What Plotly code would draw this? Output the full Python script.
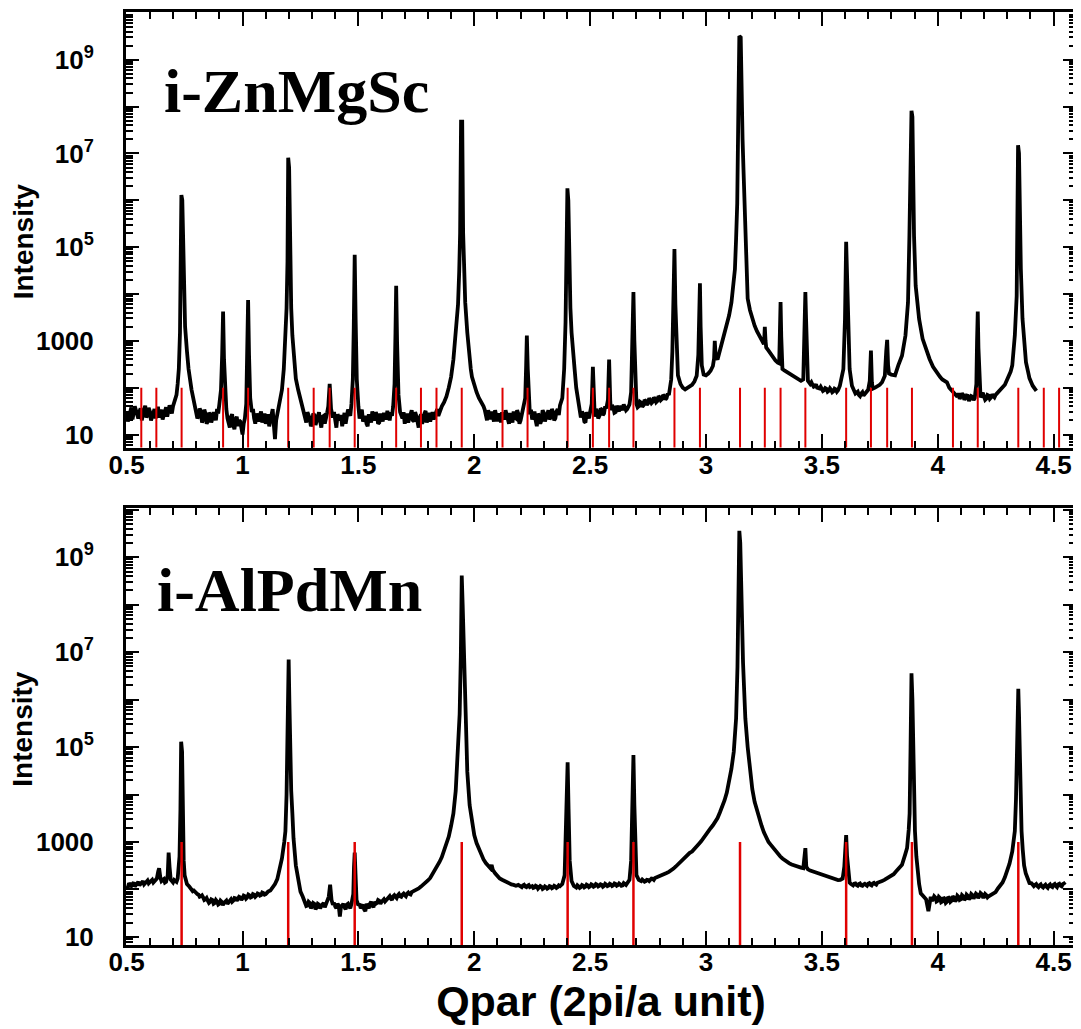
import plotly.graph_objects as go

# ---------------- data ----------------
# i-ZnMgSc scan: (Qpar, intensity)
znmgsc_points = [
    (0.50, 30), (0.51, 24), (0.52, 38), (0.53, 27), (0.54, 33), (0.55, 22), (0.56, 36), (0.57, 28), (0.58, 41), (0.59, 26),
    (0.60, 31), (0.61, 24), (0.62, 35), (0.63, 29), (0.64, 23), (0.65, 34), (0.66, 27), (0.67, 38), (0.68, 30), (0.69, 36),
    (0.70, 40), (0.71, 55), (0.715, 70), (0.72, 120), (0.725, 250), (0.730, 1500), (0.733, 5e4), (0.736, 1.3e6), (0.740, 1.0e6), (0.744, 5e4),
    (0.748, 6000), (0.752, 2000), (0.76, 600), (0.767, 250), (0.78, 90), (0.79, 50), (0.80, 33), (0.81, 25), (0.82, 31), (0.83, 21),
    (0.84, 28), (0.85, 19), (0.86, 27), (0.87, 22), (0.88, 26), (0.89, 35), (0.90, 45), (0.907, 90), (0.912, 500), (0.916, 4200),
    (0.920, 400), (0.926, 70), (0.93, 35), (0.94, 18), (0.95, 24), (0.96, 16), (0.97, 21), (0.98, 15), (0.99, 19), (1.00, 10),
    (1.01, 22), (1.016, 45), (1.020, 400), (1.024, 7400), (1.028, 500), (1.033, 60), (1.04, 30), (1.05, 22), (1.06, 28), (1.07, 19),
    (1.08, 31), (1.09, 24), (1.10, 17), (1.11, 27), (1.12, 20), (1.13, 35), (1.14, 8), (1.15, 26), (1.16, 45), (1.17, 90),
    (1.178, 250), (1.185, 1200), (1.19, 5000), (1.194, 5e4), (1.197, 8.1e6), (1.201, 5e6), (1.205, 8e4), (1.21, 5000), (1.215, 1300), (1.22, 500),
    (1.23, 155), (1.24, 90), (1.25, 55), (1.26, 38), (1.27, 24), (1.28, 30), (1.29, 22), (1.30, 17), (1.31, 26), (1.32, 20),
    (1.33, 30), (1.34, 14), (1.35, 25), (1.36, 21), (1.37, 40), (1.376, 120), (1.382, 35), (1.39, 23), (1.40, 18), (1.41, 27),
    (1.42, 20), (1.43, 15), (1.44, 29), (1.45, 22), (1.46, 30), (1.47, 45), (1.476, 150), (1.480, 2000), (1.484, 6.9e4), (1.488, 3000),
    (1.493, 150), (1.50, 40), (1.51, 28), (1.52, 19), (1.53, 25), (1.54, 15), (1.55, 23), (1.56, 31), (1.57, 20), (1.58, 26),
    (1.59, 18), (1.60, 24), (1.61, 29), (1.62, 21), (1.63, 27), (1.64, 30), (1.65, 40), (1.656, 120), (1.660, 1500), (1.663, 1.5e4),
    (1.667, 900), (1.673, 70), (1.68, 30), (1.69, 22), (1.70, 17), (1.71, 28), (1.72, 21), (1.73, 33), (1.74, 19), (1.75, 25),
    (1.76, 14), (1.77, 27), (1.78, 20), (1.79, 32), (1.80, 24), (1.81, 19), (1.82, 30), (1.83, 26), (1.84, 35), (1.85, 30),
    (1.86, 40), (1.87, 49), (1.88, 65), (1.89, 100), (1.90, 170), (1.91, 400), (1.92, 1500), (1.93, 6000), (1.935, 3e4), (1.939, 2e5),
    (1.943, 4.8e7), (1.948, 4.8e7), (1.952, 2e5), (1.956, 3e4), (1.961, 6600), (1.97, 1500), (1.976, 570), (1.985, 250), (1.99, 170), (2.00, 110),
    (2.01, 80), (2.02, 60), (2.03, 50), (2.04, 40), (2.05, 28), (2.06, 33), (2.07, 21), (2.08, 26), (2.09, 33), (2.10, 19),
    (2.11, 25), (2.12, 30), (2.13, 21), (2.14, 27), (2.15, 17), (2.16, 24), (2.17, 31), (2.18, 22), (2.19, 28), (2.20, 20),
    (2.21, 30), (2.22, 60), (2.224, 300), (2.227, 1300), (2.231, 250), (2.236, 50), (2.24, 27), (2.25, 21), (2.26, 31), (2.27, 15),
    (2.28, 25), (2.29, 20), (2.30, 29), (2.31, 23), (2.32, 33), (2.33, 24), (2.34, 30), (2.35, 22), (2.36, 35), (2.37, 42),
    (2.38, 60), (2.388, 250), (2.394, 2500), (2.398, 6e4), (2.402, 1.8e6), (2.406, 1e6), (2.41, 6e4), (2.415, 5000), (2.42, 1500), (2.427, 400),
    (2.433, 250), (2.44, 100), (2.448, 49), (2.46, 23), (2.47, 27), (2.48, 18), (2.49, 26), (2.50, 30), (2.507, 45), (2.512, 280),
    (2.517, 40), (2.52, 24), (2.53, 31), (2.54, 25), (2.55, 34), (2.56, 28), (2.57, 36), (2.577, 55), (2.582, 400), (2.587, 50),
    (2.59, 33), (2.60, 38), (2.61, 30), (2.62, 36), (2.63, 41), (2.64, 33), (2.65, 39), (2.66, 35), (2.67, 44), (2.677, 80),
    (2.683, 1200), (2.687, 1.1e4), (2.691, 1000), (2.697, 80), (2.70, 45), (2.71, 40), (2.72, 48), (2.73, 42), (2.74, 52), (2.75, 46),
    (2.76, 55), (2.77, 50), (2.78, 58), (2.79, 52), (2.80, 62), (2.81, 57), (2.82, 66), (2.83, 60), (2.84, 70), (2.85, 150),
    (2.855, 600), (2.860, 8000), (2.864, 9.1e4), (2.868, 6000), (2.872, 1300), (2.879, 183), (2.89, 120), (2.90, 100), (2.91, 92), (2.92, 98),
    (2.93, 105), (2.94, 115), (2.95, 135), (2.96, 180), (2.967, 500), (2.971, 3000), (2.974, 1.7e4), (2.977, 2000), (2.982, 300), (2.99, 190),
    (3.00, 183), (3.01, 200), (3.02, 230), (3.03, 290), (3.035, 420), (3.038, 1000), (3.042, 450), (3.05, 400), (3.058, 570), (3.07, 900),
    (3.08, 1300), (3.09, 2000), (3.10, 3500), (3.11, 6600), (3.12, 1.8e4), (3.125, 3.4e4), (3.13, 1.5e5), (3.135, 8.7e5), (3.140, 1e8), (3.144, 3.2e9),
    (3.150, 3e9), (3.153, 2e8), (3.158, 2e7), (3.162, 4.5e6), (3.166, 8e5), (3.170, 1.5e5), (3.175, 2e4), (3.18, 8000), (3.19, 4500), (3.20, 2900),
    (3.21, 2100), (3.22, 1600), (3.23, 1250), (3.24, 1050), (3.25, 850), (3.252, 1200), (3.254, 2000), (3.257, 1000), (3.26, 720), (3.27, 620),
    (3.28, 520), (3.29, 440), (3.30, 380), (3.31, 340), (3.316, 330), (3.319, 1500), (3.322, 6700), (3.325, 1200), (3.33, 250), (3.34, 230),
    (3.35, 215), (3.36, 200), (3.37, 185), (3.38, 170), (3.39, 160), (3.40, 150), (3.41, 140), (3.42, 150), (3.424, 600), (3.427, 4000),
    (3.429, 1.1e4), (3.432, 3000), (3.436, 400), (3.44, 140), (3.45, 120), (3.46, 115), (3.47, 108), (3.48, 100), (3.49, 96), (3.50, 92),
    (3.51, 88), (3.52, 95), (3.53, 86), (3.54, 90), (3.55, 84), (3.56, 92), (3.57, 88), (3.578, 110), (3.593, 250), (3.600, 2900),
    (3.605, 1.3e5), (3.612, 6600), (3.620, 250), (3.630, 110), (3.64, 85), (3.65, 78), (3.66, 70), (3.67, 75), (3.68, 68), (3.69, 80),
    (3.70, 90), (3.707, 140), (3.712, 620), (3.716, 130), (3.72, 95), (3.73, 100), (3.74, 105), (3.75, 115), (3.76, 130), (3.772, 180),
    (3.778, 600), (3.782, 1050), (3.786, 300), (3.79, 200), (3.80, 190), (3.816, 183), (3.83, 300), (3.846, 480), (3.861, 1300), (3.872, 6600),
    (3.878, 1.7e5), (3.883, 5e6), (3.887, 8.1e7), (3.891, 6e7), (3.893, 4.5e6), (3.898, 1.7e5), (3.905, 1.5e4), (3.92, 2900), (3.935, 1100), (3.95, 650),
    (3.965, 410), (3.98, 280), (3.994, 215), (4.01, 170), (4.02, 150), (4.04, 130), (4.05, 100), (4.06, 88), (4.07, 80), (4.08, 72),
    (4.09, 76), (4.10, 64), (4.11, 70), (4.12, 60), (4.13, 67), (4.14, 58), (4.15, 64), (4.16, 60), (4.167, 120), (4.170, 1000),
    (4.173, 4200), (4.176, 700), (4.18, 100), (4.19, 70), (4.20, 64), (4.21, 58), (4.22, 68), (4.23, 62), (4.24, 66), (4.25, 70),
    (4.26, 80), (4.27, 90), (4.28, 100), (4.29, 115), (4.30, 150), (4.307, 180), (4.315, 220), (4.322, 300), (4.333, 1300), (4.341, 9000),
    (4.344, 5e5), (4.347, 1.5e7), (4.351, 1e7), (4.355, 5e5), (4.359, 3.4e4), (4.366, 3000), (4.373, 900), (4.381, 350), (4.39, 220), (4.396, 160),
    (4.41, 110), (4.426, 85),
]

# extra background readings of the i-ZnMgSc scan (between the points above)
znmgsc_noise_points = [
    (0.505, 19), (0.515, 33), (0.525, 21), (0.535, 40), (0.545, 25), (0.555, 31), (0.565, 20), (0.575, 35), (0.585, 23), (0.595, 37),
    (0.605, 20), (0.615, 32), (0.625, 22), (0.635, 39), (0.645, 30), (0.655, 21), (0.665, 35), (0.675, 24), (0.685, 42), (0.695, 28),
    (0.805, 22), (0.815, 36), (0.825, 18), (0.835, 34), (0.845, 17), (0.855, 29), (0.865, 18), (0.875, 30), (0.885, 20), (0.895, 28),
    (0.935, 22), (0.945, 14), (0.955, 27), (0.965, 13), (0.975, 24), (0.985, 20), (0.995, 13), (1.005, 17),
    (1.045, 35), (1.055, 17), (1.065, 24), (1.075, 26), (1.085, 18), (1.095, 28), (1.105, 21), (1.115, 15), (1.125, 29), (1.135, 16),
    (1.145, 20), (1.155, 33),
    (1.265, 31), (1.275, 18), (1.285, 26), (1.295, 15), (1.305, 28), (1.315, 16), (1.325, 27), (1.335, 19), (1.345, 24), (1.355, 17),
    (1.365, 29), (1.395, 30), (1.405, 14), (1.415, 22), (1.425, 26), (1.435, 21), (1.445, 17), (1.455, 34), (1.465, 25),
    (1.505, 22), (1.515, 34), (1.525, 23), (1.535, 17), (1.545, 27), (1.555, 18), (1.565, 24), (1.575, 30), (1.585, 17), (1.595, 28),
    (1.605, 19), (1.615, 23), (1.625, 32), (1.635, 20), (1.645, 25),
    (1.685, 25), (1.695, 30), (1.705, 22), (1.715, 18), (1.725, 27), (1.735, 20), (1.745, 30), (1.755, 19), (1.765, 23), (1.775, 17),
    (1.785, 28), (1.795, 18), (1.805, 29), (1.815, 26), (1.825, 21), (1.835, 31), (1.845, 25), (1.855, 38),
    (2.045, 34), (2.055, 20), (2.065, 27), (2.075, 31), (2.085, 19), (2.095, 24), (2.105, 28), (2.115, 18), (2.125, 24), (2.135, 33),
    (2.145, 19), (2.155, 29), (2.165, 18), (2.175, 23), (2.185, 33), (2.195, 17), (2.205, 26),
    (2.245, 34), (2.255, 26), (2.265, 20), (2.275, 28), (2.285, 17), (2.295, 33), (2.305, 19), (2.315, 27), (2.325, 21), (2.335, 35),
    (2.345, 20), (2.355, 31), (2.365, 26),
    (2.465, 31), (2.475, 19), (2.485, 30), (2.495, 22), (2.525, 35), (2.535, 22), (2.545, 36), (2.555, 26), (2.565, 40),
    (2.595, 42), (2.605, 29), (2.615, 41), (2.625, 31), (2.635, 35), (2.645, 44), (2.655, 33), (2.665, 40),
    (2.705, 38), (2.715, 50), (2.725, 39), (2.735, 55), (2.745, 43), (2.755, 60), (2.765, 47), (2.775, 62), (2.785, 49), (2.795, 66),
    (2.805, 54), (2.815, 70), (2.825, 56), (2.835, 75),
    (3.455, 130), (3.465, 105), (3.475, 118), (3.485, 95), (3.495, 105), (3.505, 85), (3.515, 98), (3.525, 82), (3.535, 97), (3.545, 80),
    (3.555, 95), (3.565, 82), (3.635, 90), (3.645, 75), (3.655, 82), (3.665, 66), (3.675, 80), (3.685, 72), (3.695, 86),
    (4.085, 64), (4.095, 58), (4.105, 75), (4.115, 55), (4.125, 68), (4.135, 52), (4.145, 66), (4.155, 54), (4.185, 62), (4.195, 78),
    (4.205, 55), (4.215, 70), (4.225, 58), (4.235, 72), (4.245, 62),
]

# i-AlPdMn scan: (Qpar, intensity)
alpdmn_points = [
    (0.50, 120), (0.51, 135), (0.52, 118), (0.53, 140), (0.54, 125), (0.55, 145), (0.56, 130), (0.57, 150), (0.58, 138), (0.59, 155),
    (0.60, 142), (0.61, 160), (0.62, 150), (0.63, 170), (0.636, 240), (0.640, 280), (0.645, 180), (0.65, 150), (0.66, 165), (0.67, 145),
    (0.677, 200), (0.681, 600), (0.685, 300), (0.69, 160), (0.70, 140), (0.71, 150), (0.72, 170), (0.728, 500), (0.732, 5000), (0.735, 1.3e5),
    (0.739, 8e4), (0.742, 3000), (0.746, 400), (0.75, 200), (0.76, 130), (0.77, 115), (0.78, 100), (0.79, 95), (0.80, 85), (0.81, 78),
    (0.82, 72), (0.83, 68), (0.84, 62), (0.85, 58), (0.86, 55), (0.87, 60), (0.88, 52), (0.89, 56), (0.90, 50), (0.91, 55),
    (0.92, 52), (0.93, 58), (0.94, 55), (0.95, 62), (0.96, 58), (0.97, 65), (0.98, 62), (0.99, 68), (1.00, 65), (1.01, 72),
    (1.02, 68), (1.03, 75), (1.04, 70), (1.05, 78), (1.06, 74), (1.07, 80), (1.08, 76), (1.09, 84), (1.10, 80), (1.11, 90),
    (1.12, 95), (1.13, 108), (1.14, 130), (1.15, 165), (1.16, 250), (1.17, 450), (1.18, 1000), (1.185, 1700), (1.19, 1e4), (1.193, 5e4),
    (1.196, 2e6), (1.199, 7e6), (1.202, 1e6), (1.205, 1e5), (1.21, 1.2e4), (1.215, 4000), (1.22, 1200), (1.23, 320), (1.24, 150), (1.25, 90),
    (1.26, 70), (1.27, 55), (1.28, 46), (1.29, 52), (1.30, 44), (1.31, 50), (1.32, 42), (1.33, 48), (1.34, 45), (1.35, 52),
    (1.36, 48), (1.372, 70), (1.378, 126), (1.384, 60), (1.39, 48), (1.40, 44), (1.41, 50), (1.42, 27), (1.43, 46), (1.44, 42),
    (1.45, 48), (1.46, 44), (1.47, 50), (1.478, 80), (1.481, 300), (1.484, 600), (1.487, 250), (1.492, 60), (1.50, 46), (1.51, 40),
    (1.52, 48), (1.53, 35), (1.54, 45), (1.55, 50), (1.56, 46), (1.57, 55), (1.58, 52), (1.59, 58), (1.60, 55), (1.61, 62),
    (1.62, 60), (1.63, 68), (1.64, 64), (1.65, 72), (1.66, 70), (1.67, 75), (1.68, 72), (1.69, 78), (1.70, 76), (1.71, 82),
    (1.72, 80), (1.73, 88), (1.74, 92), (1.75, 100), (1.76, 105), (1.77, 115), (1.78, 125), (1.79, 140), (1.80, 155), (1.81, 175),
    (1.82, 210), (1.83, 260), (1.84, 320), (1.85, 380), (1.86, 480), (1.87, 650), (1.88, 900), (1.89, 1300), (1.90, 2200), (1.91, 4000),
    (1.92, 1.2e4), (1.93, 8e4), (1.937, 5e5), (1.942, 8e6), (1.946, 4.1e8), (1.950, 1e8), (1.954, 1.8e7), (1.96, 5e5), (1.97, 3e4), (1.98, 6000),
    (1.99, 2500), (2.00, 1400), (2.01, 950), (2.02, 700), (2.03, 520), (2.04, 430), (2.05, 360), (2.06, 310), (2.07, 280), (2.075, 330),
    (2.08, 260), (2.09, 220), (2.10, 190), (2.11, 170), (2.12, 160), (2.13, 150), (2.14, 140), (2.15, 134), (2.16, 128), (2.17, 125),
    (2.18, 120), (2.19, 125), (2.20, 118), (2.21, 122), (2.22, 115), (2.23, 120), (2.24, 112), (2.25, 118), (2.26, 110), (2.27, 116),
    (2.28, 108), (2.29, 114), (2.30, 106), (2.31, 112), (2.32, 108), (2.33, 115), (2.34, 110), (2.35, 116), (2.36, 112), (2.37, 118),
    (2.38, 130), (2.39, 200), (2.395, 1000), (2.399, 1e4), (2.403, 4.8e4), (2.407, 5000), (2.412, 400), (2.42, 150), (2.43, 118), (2.44, 110),
    (2.45, 116), (2.46, 112), (2.47, 120), (2.48, 114), (2.49, 122), (2.50, 116), (2.51, 124), (2.52, 118), (2.53, 126), (2.54, 120),
    (2.55, 125), (2.56, 119), (2.57, 127), (2.58, 121), (2.59, 128), (2.60, 122), (2.61, 130), (2.62, 124), (2.63, 128), (2.64, 122),
    (2.65, 130), (2.66, 135), (2.67, 160), (2.677, 400), (2.682, 5000), (2.687, 6.8e4), (2.691, 6000), (2.696, 500), (2.70, 200), (2.71, 160),
    (2.72, 150), (2.73, 155), (2.74, 150), (2.75, 158), (2.76, 160), (2.77, 168), (2.78, 175), (2.79, 182), (2.80, 190), (2.81, 200),
    (2.82, 210), (2.83, 222), (2.84, 235), (2.85, 250), (2.86, 275), (2.87, 305), (2.88, 340), (2.89, 390), (2.90, 440), (2.91, 490),
    (2.92, 540), (2.93, 590), (2.94, 630), (2.95, 700), (2.96, 800), (2.97, 920), (2.98, 1050), (2.99, 1250), (3.00, 1450), (3.01, 1700),
    (3.02, 1950), (3.03, 2250), (3.04, 2600), (3.05, 3200), (3.06, 4200), (3.07, 5500), (3.08, 7500), (3.09, 1.1e4), (3.10, 1.8e4), (3.11, 3.5e4),
    (3.12, 8e4), (3.13, 4e5), (3.136, 5e6), (3.140, 2e8), (3.144, 3.6e9), (3.148, 2e9), (3.152, 2e8), (3.156, 3e7), (3.16, 6e6), (3.165, 1.5e6),
    (3.17, 4e5), (3.18, 1e5), (3.19, 3e4), (3.20, 1.3e4), (3.21, 7000), (3.22, 4500), (3.23, 3000), (3.24, 2200), (3.25, 1600), (3.26, 1250),
    (3.27, 1000), (3.28, 870), (3.29, 750), (3.30, 650), (3.31, 570), (3.32, 500), (3.33, 450), (3.34, 410), (3.35, 380), (3.36, 355),
    (3.37, 335), (3.38, 320), (3.39, 305), (3.40, 295), (3.41, 288), (3.42, 280), (3.425, 500), (3.429, 740), (3.433, 300), (3.44, 265),
    (3.45, 250), (3.46, 240), (3.47, 230), (3.48, 225), (3.49, 215), (3.50, 210), (3.51, 200), (3.52, 195), (3.53, 185), (3.54, 175),
    (3.55, 170), (3.56, 160), (3.57, 158), (3.58, 160), (3.59, 170), (3.597, 300), (3.601, 900), (3.605, 1400), (3.609, 500), (3.615, 180),
    (3.62, 140), (3.63, 128), (3.64, 132), (3.65, 124), (3.66, 130), (3.67, 122), (3.68, 128), (3.69, 125), (3.70, 132), (3.71, 126),
    (3.72, 134), (3.73, 130), (3.74, 138), (3.75, 142), (3.76, 150), (3.77, 160), (3.78, 170), (3.79, 180), (3.80, 190), (3.81, 210),
    (3.82, 240), (3.83, 270), (3.846, 330), (3.86, 550), (3.868, 750), (3.875, 1800), (3.879, 4000), (3.883, 1e5), (3.887, 3.6e6), (3.891, 1e6),
    (3.895, 5e4), (3.902, 1700), (3.908, 500), (3.913, 230), (3.92, 130), (3.927, 83), (3.94, 70), (3.95, 62), (3.96, 35), (3.97, 70),
    (3.98, 62), (3.99, 68), (4.00, 58), (4.01, 66), (4.02, 56), (4.03, 64), (4.04, 55), (4.05, 66), (4.06, 58), (4.07, 68),
    (4.08, 60), (4.09, 70), (4.10, 62), (4.11, 72), (4.12, 64), (4.13, 74), (4.14, 66), (4.15, 76), (4.16, 70), (4.17, 78),
    (4.18, 72), (4.19, 80), (4.20, 70), (4.21, 76), (4.22, 72), (4.23, 76), (4.24, 80), (4.25, 88), (4.26, 105), (4.27, 120),
    (4.28, 140), (4.29, 180), (4.30, 240), (4.31, 350), (4.322, 630), (4.333, 1700), (4.338, 8000), (4.342, 5e4), (4.345, 5e5), (4.348, 1.7e6),
    (4.351, 5e5), (4.355, 3e4), (4.359, 4000), (4.362, 1700), (4.367, 700), (4.373, 320), (4.38, 220), (4.39, 170), (4.396, 137), (4.41, 125),
    (4.42, 125), (4.43, 118), (4.44, 122), (4.45, 115), (4.46, 120), (4.47, 114), (4.48, 122), (4.49, 116), (4.50, 125), (4.51, 118),
    (4.52, 128), (4.53, 120), (4.54, 130), (4.55, 125),
]

# extra background readings of the i-AlPdMn scan (between the points above)
alpdmn_noise_points = [
    (0.505, 110), (0.515, 128), (0.525, 132), (0.535, 115), (0.545, 138), (0.555, 122), (0.565, 142), (0.575, 128), (0.585, 150), (0.595, 135),
    (0.605, 152), (0.615, 140), (0.625, 162), (0.655, 158), (0.665, 140), (0.695, 150), (0.705, 158), (0.715, 145),
    (0.775, 105), (0.785, 92), (0.795, 88), (0.805, 80), (0.815, 70), (0.825, 75), (0.835, 60), (0.845, 66), (0.855, 52), (0.865, 62),
    (0.875, 50), (0.885, 60), (0.895, 48), (0.905, 58), (0.915, 47), (0.925, 56), (0.935, 50), (0.945, 60), (0.955, 55), (0.965, 66),
    (0.975, 58), (0.985, 70), (0.995, 60), (1.005, 74), (1.015, 64), (1.025, 78), (1.035, 68), (1.045, 80), (1.055, 70), (1.065, 82),
    (1.075, 74), (1.085, 86), (1.095, 78), (1.105, 88),
    (1.265, 60), (1.275, 45), (1.285, 55), (1.295, 40), (1.305, 52), (1.315, 38), (1.325, 50), (1.335, 40), (1.345, 50), (1.355, 42),
    (1.365, 55), (1.395, 52), (1.405, 40), (1.415, 46), (1.425, 44), (1.435, 50), (1.445, 38), (1.455, 50), (1.465, 40),
    (1.505, 50), (1.515, 44), (1.525, 38), (1.535, 50), (1.545, 40), (1.555, 55), (1.565, 42), (1.575, 50), (1.585, 60), (1.595, 50),
    (1.605, 58), (1.615, 56), (1.625, 64), (1.635, 72), (1.645, 60), (1.655, 76), (1.665, 66), (1.675, 80), (1.685, 70), (1.695, 82),
    (1.705, 72), (1.715, 86), (1.725, 78),
    (2.205, 112), (2.215, 126), (2.225, 112), (2.235, 124), (2.245, 118), (2.255, 108), (2.265, 120), (2.275, 104), (2.285, 118), (2.295, 102),
    (2.305, 116), (2.315, 104), (2.325, 118), (2.335, 106), (2.345, 120), (2.355, 108), (2.365, 122),
    (2.445, 122), (2.455, 108), (2.465, 124), (2.475, 110), (2.485, 126), (2.495, 112), (2.505, 128), (2.515, 114), (2.525, 130), (2.535, 116),
    (2.545, 128), (2.555, 114), (2.565, 132), (2.575, 118), (2.585, 132), (2.595, 118), (2.605, 134), (2.615, 120), (2.625, 134), (2.635, 120),
    (2.645, 136), (2.655, 124),
    (2.715, 150), (2.725, 162), (2.735, 146), (2.745, 160), (2.755, 150), (2.765, 170), (2.775, 160),
    (3.625, 132), (3.635, 122), (3.645, 134), (3.655, 120), (3.665, 134), (3.675, 120), (3.685, 132), (3.695, 120), (3.705, 136), (3.715, 122),
    (3.725, 138), (3.735, 126),
    (3.975, 58), (3.985, 72), (3.995, 56), (4.005, 70), (4.015, 54), (4.025, 68), (4.035, 52), (4.045, 70), (4.055, 55), (4.065, 72),
    (4.075, 56), (4.085, 74), (4.095, 60), (4.105, 76), (4.115, 60), (4.125, 78), (4.135, 62), (4.145, 80), (4.155, 64), (4.165, 82),
    (4.175, 66), (4.185, 84), (4.195, 70), (4.205, 80), (4.215, 68),
    (4.405, 135), (4.415, 118), (4.425, 130), (4.435, 112), (4.445, 128), (4.455, 110), (4.465, 126), (4.475, 108), (4.485, 128), (4.495, 112),
    (4.505, 130), (4.515, 112), (4.525, 132), (4.535, 116), (4.545, 134),
]

_zn = sorted(znmgsc_points + znmgsc_noise_points)
q_znmgsc = [p[0] for p in _zn]
i_znmgsc = [p[1] for p in _zn]
_al = sorted(alpdmn_points + alpdmn_noise_points)
q_alpdmn = [p[0] for p in _al]
i_alpdmn = [p[1] for p in _al]

# calculated reflection positions (red sticks)
bragg_znmgsc = [0.563, 0.628, 0.737, 0.916, 1.024, 1.197, 1.307, 1.376, 1.484, 1.663, 1.770, 1.837,
                1.946, 2.122, 2.230, 2.403, 2.512, 2.582, 2.687, 2.864, 2.974, 3.147, 3.254, 3.322,
                3.429, 3.605, 3.712, 3.782, 3.889, 4.066, 4.173, 4.348, 4.458, 4.524]
bragg_alpdmn = [0.737, 1.197, 1.484, 1.946, 2.403, 2.687, 3.147, 3.605, 3.889, 4.348]
stick_top_znmgsc = 100
stick_top_alpdmn = 1000
stick_base = 1

sample_znmgsc = "i-ZnMgSc"
sample_alpdmn = "i-AlPdMn"
x_title = "Qpar (2pi/a unit)"
y_title = "Intensity"

# labelled decades, unlabelled decades and minor ticks of the log axes
y_label_vals = [10, 1000, 1e5, 1e7, 1e9]
y_label_text = ["10", "1000", "10<sup>5</sup>", "10<sup>7</sup>", "10<sup>9</sup>"]
y_plain_decades = [100, 1e4, 1e6, 1e8, 1e10]
y_minor_vals = [m * 10 ** k for k in range(0, 11) for m in range(2, 10)]

range_znmgsc = [0.72, 10.02]
range_alpdmn = [0.83, 10.03]


def sticks(qs, top):
    xs, ys = [], []
    for q in qs:
        xs += [q, q, None]
        ys += [stick_base, top, None]
    return xs, ys


fig = go.Figure()

fig.add_trace(go.Scatter(x=q_znmgsc, y=i_znmgsc, mode="lines",
                         line=dict(color="black", width=3.8), xaxis="x", yaxis="y",
                         showlegend=False, name=sample_znmgsc))
sx, sy = sticks(bragg_znmgsc, stick_top_znmgsc)
fig.add_trace(go.Scatter(x=sx, y=sy, mode="lines", line=dict(color="#e00000", width=2),
                         xaxis="x", yaxis="y", showlegend=False, name="reflections"))

fig.add_trace(go.Scatter(x=q_alpdmn, y=i_alpdmn, mode="lines",
                         line=dict(color="black", width=3.8), xaxis="x2", yaxis="y2",
                         showlegend=False, name=sample_alpdmn))
sx, sy = sticks(bragg_alpdmn, stick_top_alpdmn)
fig.add_trace(go.Scatter(x=sx, y=sy, mode="lines", line=dict(color="#e00000", width=2.5),
                         xaxis="x2", yaxis="y2", showlegend=False, name="reflections"))

# empty traces that hold the overlay axes carrying the unlabelled decade ticks
for xa, ya in [("x", "y3"), ("x", "y4"), ("x2", "y5"), ("x2", "y6")]:
    fig.add_trace(go.Scatter(x=[None], y=[None], xaxis=xa, yaxis=ya, mode="lines",
                             showlegend=False, hoverinfo="skip"))

tick_font = dict(family="Liberation Sans, Arial", size=26, color="black", weight="bold")


def xaxis_style(anchor):
    return dict(
        anchor=anchor, domain=[0, 1], range=[0.497, 4.597],
        tick0=0.5, dtick=0.5, ticks="inside", ticklen=14, tickwidth=2, tickcolor="black",
        showline=True, linewidth=3, linecolor="black", mirror="ticks",
        showgrid=False, zeroline=False, tickfont=tick_font, ticklabelstandoff=-8,
        minor=dict(dtick=0.1, tick0=0.5, ticks="inside", ticklen=7, tickwidth=2,
                   tickcolor="black", showgrid=False),
    )


def yaxis_style(anchor, domain, rng):
    return dict(
        anchor=anchor, domain=domain, type="log", range=rng,
        tickmode="array", tickvals=y_label_vals, ticktext=y_label_text,
        ticks="inside", ticklen=13, tickwidth=2, tickcolor="black",
        showline=True, linewidth=3, linecolor="black", mirror="ticks",
        showgrid=False, zeroline=False, tickfont=tick_font, ticklabelstandoff=24,
        minor=dict(tickmode="array", tickvals=y_minor_vals, ticks="inside", ticklen=7,
                   tickwidth=2, tickcolor="black", showgrid=False),
    )


def decade_axis(anchor, over, rng, side):
    return dict(
        anchor=anchor, overlaying=over, side=side, type="log", range=rng,
        tickmode="array", tickvals=y_plain_decades, showticklabels=False,
        ticks="inside", ticklen=13, tickwidth=2, tickcolor="black",
        showline=False, showgrid=False, zeroline=False,
    )


xa2 = xaxis_style("y2")
xa2["title"] = dict(text=x_title, standoff=6,
                    font=dict(family="Liberation Sans, Arial", size=43, color="black", weight="bold"))

title_font = dict(family="Liberation Sans, Arial", size=28, color="black", weight="bold")
sample_font = dict(family="Liberation Serif, Times New Roman", size=62, color="black", weight="bold")

# the page adds an 8 px body margin, so the figure is 8 px smaller than the window
fig.update_layout(
    width=1073, height=1021,
    margin=dict(l=118, r=5, t=1, b=84),
    paper_bgcolor="white", plot_bgcolor="white",
    xaxis=xaxis_style("y"),
    yaxis=yaxis_style("x", [0.5331, 1.0], range_znmgsc),
    xaxis2=xa2,
    yaxis2=yaxis_style("x2", [0.0, 0.468], range_alpdmn),
    yaxis3=decade_axis("x", "y", range_znmgsc, "left"),
    yaxis4=decade_axis("x", "y", range_znmgsc, "right"),
    yaxis5=decade_axis("x2", "y2", range_alpdmn, "left"),
    yaxis6=decade_axis("x2", "y2", range_alpdmn, "right"),
    annotations=[
        dict(text=sample_znmgsc, x=0.179, y=0.915, xref="paper", yref="paper",
             xanchor="center", yanchor="middle", showarrow=False, font=sample_font),
        dict(text=sample_alpdmn, x=0.1726, y=0.3806, xref="paper", yref="paper",
             xanchor="center", yanchor="middle", showarrow=False, font=sample_font),
        dict(text=y_title, x=-0.1084, y=0.7543, xref="paper", yref="paper", textangle=-90,
             xanchor="center", yanchor="middle", showarrow=False, font=title_font),
        dict(text=y_title, x=-0.1084, y=0.2318, xref="paper", yref="paper", textangle=-90,
             xanchor="center", yanchor="middle", showarrow=False, font=title_font),
    ],
)

fig.write_html("out.html")
